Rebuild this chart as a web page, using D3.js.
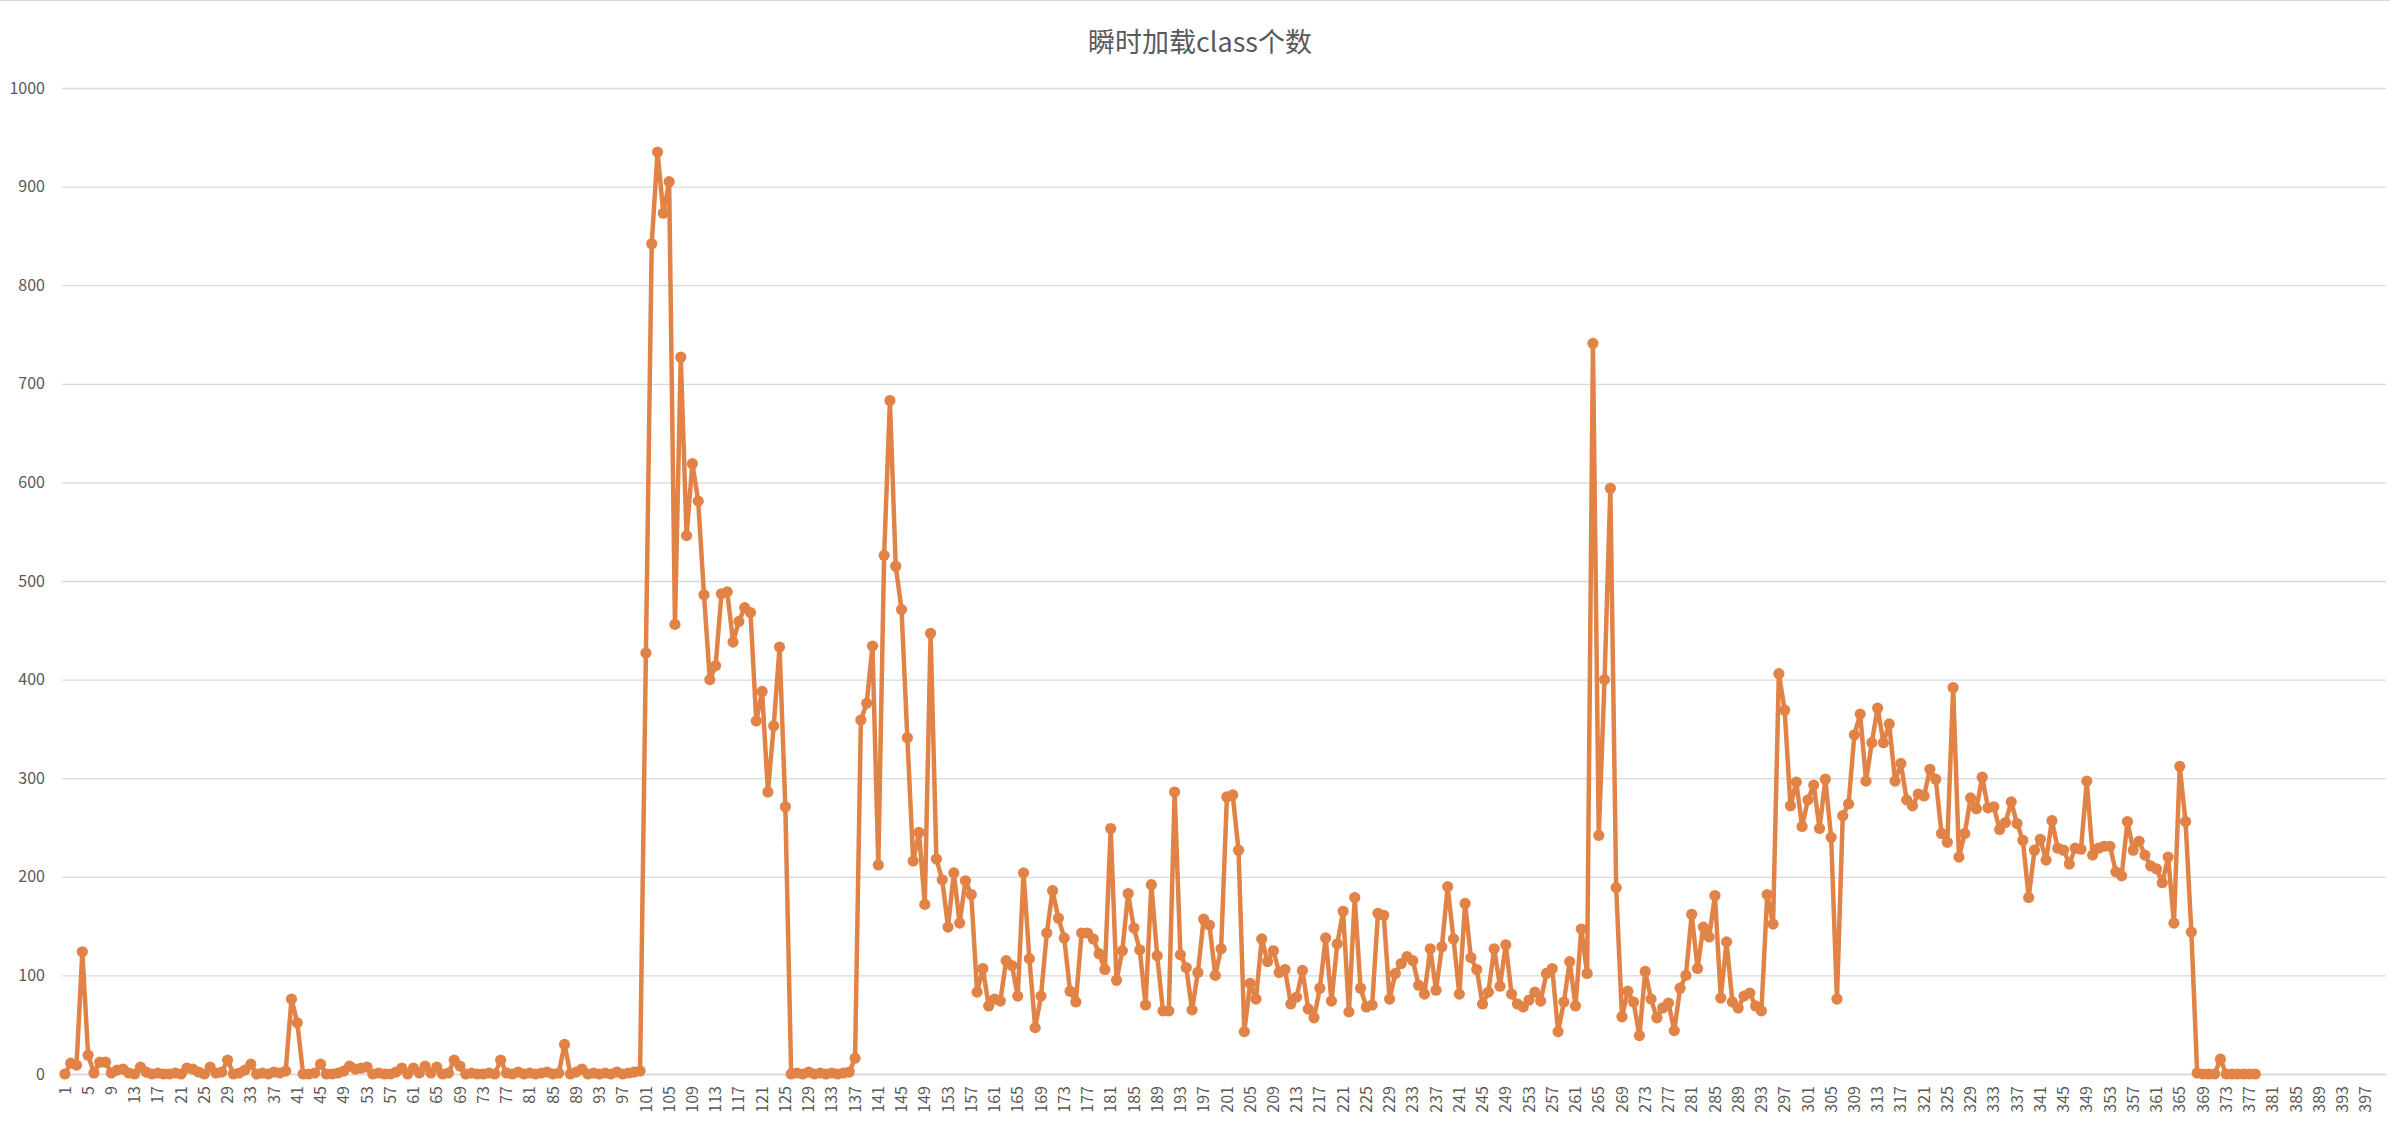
<!DOCTYPE html>
<html>
<head>
<meta charset="utf-8">
<script src="https://cdn.jsdelivr.net/npm/d3@7"></script>
<style>
  html, body { margin: 0; padding: 0; background: #fff; }
  svg { display: block; }
</style>
</head>
<body>
<div id="chart"></div>
<script>
const title = "瞬时加载class个数";
// categories 1..400 (axis shows every 4th)
const categories = d3.range(1, 401).map(String);
const yTicks = [0, 100, 200, 300, 400, 500, 600, 700, 800, 900, 1000];
const values = [
  0, 11, 9, 124, 19, 1, 12, 12, 1, 4,
  5, 1, 0, 7, 2, 0, 1, 0, 0, 1,
  0, 6, 5, 2, 0, 7, 1, 2, 14, 0,
  1, 4, 10, 0, 1, 0, 2, 1, 3, 76,
  52, 0, 0, 1, 10, 0, 0, 1, 3, 8,
  5, 6, 7, 0, 1, 0, 0, 2, 6, 0,
  6, 1, 8, 1, 7, 0, 1, 14, 8, 0,
  1, 0, 0, 1, 0, 14, 1, 0, 2, 0,
  1, 0, 1, 2, 0, 1, 30, 0, 2, 5,
  0, 1, 0, 1, 0, 2, 0, 1, 2, 3,
  427, 842, 935, 873, 905, 456, 727, 546, 619, 581,
  486, 400, 414, 487, 489, 438, 459, 473, 468, 358,
  388, 286, 353, 433, 271, 0, 1, 0, 2, 0,
  1, 0, 1, 0, 1, 2, 16, 359, 376, 434,
  212, 526, 683, 515, 471, 341, 216, 245, 172, 447,
  218, 197, 149, 204, 153, 196, 182, 83, 107, 69,
  76, 74, 115, 110, 79, 204, 117, 47, 79, 143,
  186, 158, 138, 84, 73, 143, 143, 137, 122, 106,
  249, 95, 125, 183, 148, 126, 70, 192, 120, 64,
  64, 286, 121, 108, 65, 103, 157, 151, 100, 127,
  281, 283, 227, 43, 92, 76, 137, 114, 125, 103,
  106, 71, 78, 105, 66, 57, 87, 138, 74, 132,
  165, 63, 179, 87, 68, 70, 163, 161, 76, 102,
  112, 119, 115, 90, 81, 127, 85, 129, 190, 137,
  81, 173, 118, 106, 71, 83, 127, 89, 131, 81,
  71, 68, 75, 83, 74, 102, 107, 43, 73, 114,
  69, 147, 102, 741, 242, 400, 594, 189, 58, 84,
  73, 39, 104, 76, 57, 67, 72, 44, 87, 100,
  162, 107, 149, 139, 181, 77, 134, 73, 67, 79,
  82, 69, 64, 182, 152, 406, 369, 272, 296, 251,
  278, 293, 249, 299, 240, 76, 262, 274, 344, 365,
  297, 336, 371, 336, 355, 297, 315, 278, 272, 284,
  282, 309, 299, 244, 235, 392, 220, 244, 280, 269,
  301, 270, 271, 248, 255, 276, 254, 237, 179, 227,
  238, 217, 257, 229, 227, 213, 229, 228, 297, 222,
  229, 231, 231, 205, 201, 256, 227, 236, 222, 211,
  208, 194, 220, 153, 312, 256, 144, 1, 0, 0,
  0, 15, 0, 0, 0, 0, 0, 0
];

(function () {
const W = 2390, H = 1134;
const mLeft = 62, mRight = 2386, mTop = 88, mBottom = 1074;
const lineColor = "#E18346";
const textColor = "#595959";
const gridColor = "#d9d9d9";
const font = "'Noto Sans CJK SC', 'Noto Sans', sans-serif";

const svg = d3.select("#chart").append("svg")
  .attr("width", W).attr("height", H)
  .style("font-family", font);

svg.append("rect").attr("x", 0).attr("y", 0)
  .attr("width", W).attr("height", H)
  .attr("fill", "#fff");
svg.append("line").attr("x1", 0).attr("x2", W).attr("y1", 0.5).attr("y2", 0.5)
  .attr("stroke", gridColor);

const x = d3.scaleBand().domain(categories).range([mLeft, mRight]).padding(0);
const y = d3.scaleLinear().domain([0, 1000]).range([mBottom, mTop]);

// Y axis with gridlines
const yAxis = svg.append("g")
  .attr("transform", `translate(${mLeft},0)`)
  .call(d3.axisLeft(y).tickValues(yTicks).tickFormat(d3.format("d"))
    .tickSize(-(mRight - mLeft)).tickPadding(17));
yAxis.select(".domain").remove();
yAxis.selectAll(".tick line").attr("stroke", gridColor).attr("stroke-width", 1.3);
yAxis.selectAll(".tick text").attr("fill", textColor).style("font-size", "16px")
  .style("font-family", font);

// X axis
const xAxis = svg.append("g")
  .attr("transform", `translate(0,${mBottom})`)
  .call(d3.axisBottom(x).tickValues(categories.filter((d, i) => i % 4 === 0)).tickSize(0));
xAxis.select(".domain").attr("stroke", gridColor).attr("stroke-width", 1.3);
xAxis.selectAll(".tick text")
  .attr("fill", textColor)
  .style("font-size", "16px")
  .style("font-family", font)
  .style("text-anchor", "end")
  .attr("transform", "rotate(-90)")
  .attr("x", -12).attr("y", 0).attr("dy", "0.35em");

// Title
svg.append("text")
  .attr("x", 1200).attr("y", 52)
  .attr("text-anchor", "middle")
  .attr("fill", textColor)
  .style("font-size", "27px")
  .text(title);

const data = values.map((v, i) => ({ c: categories[i], v }));
const cx = d => x(d.c) + x.bandwidth() / 2;

svg.append("path")
  .datum(data)
  .attr("fill", "none")
  .attr("stroke", lineColor)
  .attr("stroke-width", 4.5)
  .attr("stroke-linejoin", "round")
  .attr("d", d3.line().x(cx).y(d => y(d.v)));

svg.append("g").selectAll("circle")
  .data(data).join("circle")
  .attr("cx", cx).attr("cy", d => y(d.v))
  .attr("r", 5.6)
  .attr("fill", lineColor);
})();
</script>
</body>
</html>
